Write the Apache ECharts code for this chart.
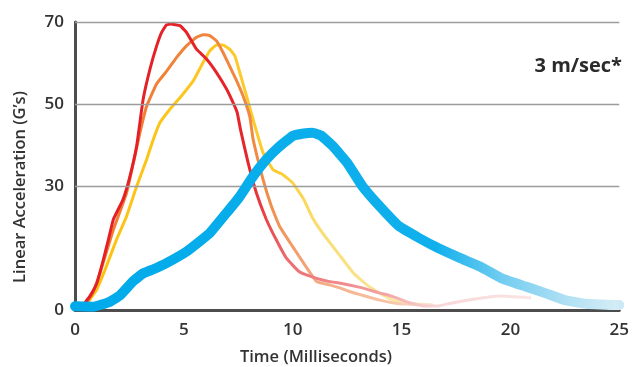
<!DOCTYPE html>
<html>
<head>
<meta charset="utf-8">
<script src="https://cdn.jsdelivr.net/npm/echarts@6/dist/echarts.min.js"></script>
<style>
  html, body { margin: 0; padding: 0; background: #ffffff; }
  #chart { width: 632px; height: 367px; }
</style>
</head>
<body>
<div id="chart"></div>
<script>
// ---- Data ----
var xTicks = [0, 5, 10, 15, 20, 25];
var yTicks = [0, 30, 50, 70];
var xTitle = 'Time (Milliseconds)';
var yTitle = 'Linear Acceleration (G\u2019s)';
var speedLabel = '3 m/sec*';

var redTime  = [0.38, 0.7, 1.0, 1.3, 1.53, 1.76, 2.2, 2.5, 2.83, 3.13, 3.44, 3.75, 3.98, 4.2, 4.4, 4.82, 5.12, 5.58, 6.04, 6.5, 6.96, 7.26, 7.45, 7.6, 7.95, 8.33, 8.79, 9.25, 9.71, 10.3, 11.1, 11.7, 12.2, 13.1, 13.5, 14.0, 14.4, 14.8, 15.4, 16.0, 16.7, 17.2, 18.3, 19.5, 20.9];
var redAccel = [1.2, 3.5, 6.5, 12.2, 17, 22, 26.8, 32, 39.8, 51.2, 58.5, 64.2, 67.5, 69.3, 69.5, 69.1, 67.5, 63.4, 61, 57.7, 53.7, 50.4, 48, 43.9, 35.8, 28.5, 22, 17, 12.6, 9.3, 7.7, 6.9, 6.5, 5.5, 4.9, 4.1, 3.6, 2.9, 1.7, 1.0, 1.0, 1.6, 2.6, 3.4, 3.0];

var orangeTime  = [0.45, 0.8, 1.15, 1.76, 2.37, 2.98, 3.29, 3.75, 4.2, 4.67, 5.12, 5.58, 5.89, 6.19, 6.5, 6.8, 7.1, 7.4, 7.72, 8.03, 8.18, 8.64, 9.02, 9.4, 10.0, 10.6, 11.1, 11.7, 12.2, 12.6, 13.2, 14.0, 14.8, 15.4, 16.4];
var orangeAccel = [1.2, 4, 9, 19.5, 28.5, 43, 49.5, 55, 58, 61.4, 64.2, 66.3, 66.9, 66.7, 65.4, 62.6, 59.3, 56, 52, 47, 41.5, 31.7, 25.2, 20.3, 15.4, 10.6, 6.9, 6.1, 5.3, 4.5, 3.6, 2.4, 1.6, 1.4, 1.2];

var yellowTime  = [0.5, 1.0, 1.38, 1.9, 2.37, 2.83, 3.29, 3.6, 3.9, 4.36, 4.82, 5.43, 5.89, 6.19, 6.5, 6.8, 7.1, 7.34, 7.57, 7.88, 8.18, 8.64, 9.1, 9.55, 10.0, 10.5, 10.9, 11.4, 12.2, 12.8, 13.4, 14.0, 14.6, 15.4, 16.4];
var yellowAccel = [1.2, 5, 9.8, 17, 22.8, 30, 36.6, 41.5, 45.5, 48.8, 51.6, 55.7, 60.2, 63, 64.4, 64.4, 63.4, 61.8, 57.7, 52, 46.3, 38.2, 34.1, 32.9, 30.9, 27, 22.5, 18.5, 13, 8.9, 6.1, 4.1, 2.4, 1.6, 1.3];

var blueTime  = [0, 0.84, 1.6, 2.06, 2.67, 3.13, 3.6, 4.2, 5.12, 5.73, 6.19, 6.96, 7.57, 8.18, 8.79, 9.4, 10.0, 10.5, 10.9, 11.3, 11.85, 12.5, 13.2, 14.0, 14.9, 15.8, 16.7, 17.7, 18.6, 19.6, 20.7, 21.6, 22.5, 23.5, 24.8, 25];
var blueAccel = [0.9, 0.8, 2, 3.5, 7.0, 8.9, 9.9, 11.4, 14.2, 16.7, 18.7, 23.6, 27.6, 32.5, 36.6, 39.8, 42.3, 42.9, 43.1, 42.4, 39.8, 35.8, 30.1, 25.2, 20.3, 17.5, 15, 12.6, 10.6, 7.7, 5.7, 4.1, 2.4, 1.5, 1.2, 1.2];

// colour fades along time: [time, colour]
var redFade    = [[0, '#e41e26'], [8.0, '#e5262b'], [9.8, '#ec6f72'], [14, '#f2a0a0'], [16.5, '#f7d6d6'], [21, '#f9e6e4']];
var orangeFade = [[0, '#f07a2c'], [8.6, '#f08a45'], [11, '#f4a882'], [14.5, '#f7c6a9'], [16.5, '#fbe7da']];
var yellowFade = [[0, '#fcc10e'], [9.2, '#fccb2e'], [11, '#f9dc6c'], [14.5, '#fbe7a2'], [16.5, '#fdf3d5']];
var blueFade   = [[0, '#00aaea'], [16.5, '#10b0ec'], [19.5, '#73cdf1'], [22.5, '#b2e0f4'], [24.6, '#d3ecf6'], [25, '#c9e7f5']];

function pairs(xs, ys) { return xs.map(function (x, i) { return [x, ys[i]]; }); }
function gradient(xs, fade) {
  var lo = Math.min.apply(null, xs), hi = Math.max.apply(null, xs);
  var stops = fade.map(function (f) {
    var o = (f[0] - lo) / (hi - lo);
    return { offset: Math.max(0, Math.min(1, o)), color: f[1] };
  });
  return new echarts.graphic.LinearGradient(0, 0, 1, 0, stops);
}

var FONT = '"Open Sans", "DejaVu Sans", sans-serif';
var chart = echarts.init(document.getElementById('chart'), null, { renderer: 'canvas' });

function lineSeries(name, xs, ys, fade, width, z) {
  return {
    name: name, type: 'line', data: pairs(xs, ys), showSymbol: false, symbol: 'none',
    smooth: 0.1, z: z, silent: true, animation: false,
    lineStyle: { width: width, color: gradient(xs, fade), cap: 'round', join: 'round' }
  };
}

chart.setOption({
  animation: false,
  grid: { left: 75, right: 12, top: 22, bottom: 57 },
  xAxis: {
    type: 'value', min: 0, max: 25, interval: 5,
    axisLine: { show: true, onZero: false, lineStyle: { color: '#4d4d4d', width: 3 } },
    axisTick: { show: false },
    splitLine: { show: false },
    axisLabel: {
      margin: 12, color: '#333333', fontSize: 17, fontWeight: 600, fontFamily: FONT,
      formatter: function (v) { return xTicks.indexOf(v) >= 0 ? String(v) : ''; }
    }
  },
  yAxis: {
    type: 'value', min: 0, max: 70, interval: 10,
    axisLine: { show: true, onZero: false, lineStyle: { color: '#4d4d4d', width: 3 } },
    axisTick: { show: false },
    splitLine: { show: false },
    axisLabel: {
      margin: 11, color: '#333333', fontSize: 17, fontWeight: 600, fontFamily: FONT,
      formatter: function (v) { return yTicks.indexOf(v) >= 0 ? String(v) : ''; }
    }
  },
  graphic: [
    { type: 'text', silent: true, x: 20, y: 187, rotation: Math.PI / 2,
      style: { text: yTitle, fill: '#333333', font: '600 16.5px ' + FONT, textAlign: 'center', textVerticalAlign: 'middle' } },
    { type: 'text', silent: true, x: 316, y: 357,
      style: { text: xTitle, fill: '#333333', font: '600 16.5px ' + FONT, textAlign: 'center', textVerticalAlign: 'middle' } },
    { type: 'text', silent: true, x: 622, y: 66,
      style: { text: speedLabel, fill: '#2b2b2b', font: 'bold 20px ' + FONT, textAlign: 'right', textVerticalAlign: 'middle' } }
  ],
  series: [
    {
      name: 'grid', type: 'line', data: [], z: 1, silent: true,
      markLine: {
        silent: true, symbol: ['none', 'none'], label: { show: false },
        lineStyle: { color: '#9c9c9c', width: 1.3, type: 'solid' },
        data: yTicks.filter(function (v) { return v > 0; }).map(function (v) { return { yAxis: v }; })
      }
    },
    lineSeries('red', redTime, redAccel, redFade, 3, 4),
    lineSeries('orange', orangeTime, orangeAccel, orangeFade, 3, 3),
    lineSeries('yellow', yellowTime, yellowAccel, yellowFade, 3, 2),
    lineSeries('blue', blueTime, blueAccel, blueFade, 10, 5)
  ]
});
</script>
</body>
</html>
